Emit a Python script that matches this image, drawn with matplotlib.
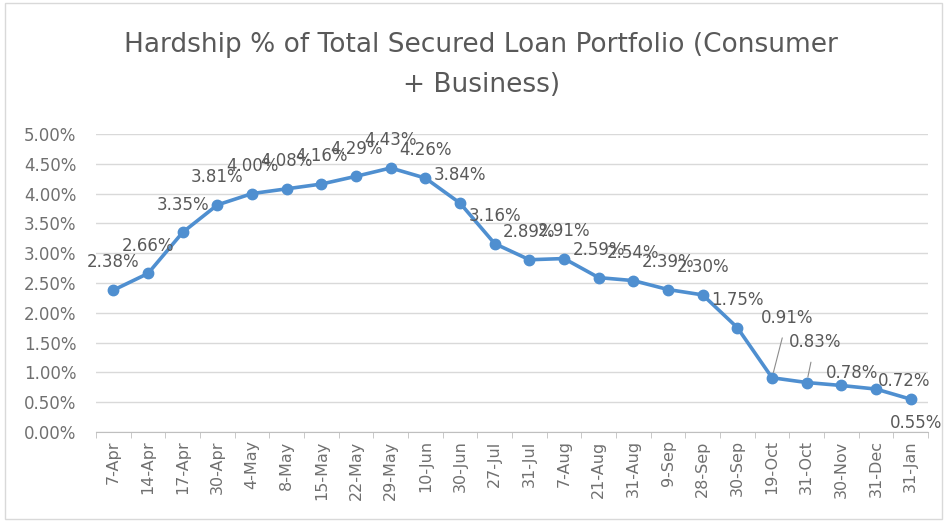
import numpy as np
import matplotlib
matplotlib.use("Agg")
import matplotlib.pyplot as plt
from matplotlib.ticker import FixedLocator, FuncFormatter

dates = ["7-Apr", "14-Apr", "17-Apr", "30-Apr", "4-May", "8-May", "15-May", "22-May",
         "29-May", "10-Jun", "30-Jun", "27-Jul", "31-Jul", "7-Aug", "21-Aug", "31-Aug",
         "9-Sep", "28-Sep", "30-Sep", "19-Oct", "31-Oct", "30-Nov", "31-Dec", "31-Jan"]
hardship_pct = [2.38, 2.66, 3.35, 3.81, 4.00, 4.08, 4.16, 4.29, 4.43, 4.26, 3.84, 3.16,
                2.89, 2.91, 2.59, 2.54, 2.39, 2.30, 1.75, 0.91, 0.83, 0.78, 0.72, 0.55]
y_ticks = [0.0, 0.5, 1.0, 1.5, 2.0, 2.5, 3.0, 3.5, 4.0, 4.5, 5.0]

plt.rcParams["font.family"] = ["DejaVu Sans"]
grey = "#595959"
tick_grey = "#707070"
blue = "#4F8FD0"

fig = plt.figure(figsize=(9.47, 5.24), dpi=100)
ax = fig.add_axes([0.1014, 0.1756, 0.8786, 0.5687])

x = np.arange(len(dates))
ax.plot(x, hardship_pct, color=blue, lw=2.6, marker="o", ms=7.5, zorder=3)

# data labels, the last few were dragged around in the original
offsets = {19: (11, 43), 20: (6, 29), 21: (8, 9), 22: (20, 6), 23: (4, -17)}
leaders = {19, 20}
for i, v in enumerate(hardship_pct):
    dx, dy = offsets.get(i, (0, 20))
    arrow = dict(arrowstyle="-", color="#8C8C8C", lw=0.8, shrinkA=6, shrinkB=4) if i in leaders else None
    ax.annotate(f"{v:.2f}%", (i, v), xytext=(dx, dy), textcoords="offset points",
                ha="center", va="center", fontsize=12, color=grey, zorder=4,
                arrowprops=arrow)

ax.set_xlim(-0.5, len(dates) - 0.5)
ax.set_ylim(0, 5)
ax.set_yticks(y_ticks)
ax.yaxis.set_major_formatter(FuncFormatter(lambda v, p: f"{v:.2f}%"))
ax.set_xticks(x)
ax.set_xticklabels(dates, rotation=90)
ax.xaxis.set_minor_locator(FixedLocator(np.arange(-0.5, len(dates), 1)))
ax.tick_params(axis="x", which="major", length=0, pad=6, labelsize=11.5, colors=tick_grey)
ax.tick_params(axis="x", which="minor", length=4, color="#BFBFBF")
ax.tick_params(axis="y", length=0, pad=14, labelsize=12, colors=tick_grey)

ax.grid(axis="y", color="#D9D9D9", lw=1)
ax.set_axisbelow(True)
for s in ["top", "right", "left"]:
    ax.spines[s].set_visible(False)
ax.spines["bottom"].set_color("#BFBFBF")

fig.text(0.508, 0.914, "Hardship % of Total Secured Loan Portfolio (Consumer", ha="center",
         va="center", fontsize=19, color=grey)
fig.text(0.508, 0.838, "+ Business)", ha="center", va="center", fontsize=19, color=grey)

fig.patches.append(plt.Rectangle((0.005, 0.01), 0.99, 0.985, transform=fig.transFigure,
                                 fill=False, edgecolor="#D9D9D9", lw=1))

fig.savefig("out.png", dpi=100)
